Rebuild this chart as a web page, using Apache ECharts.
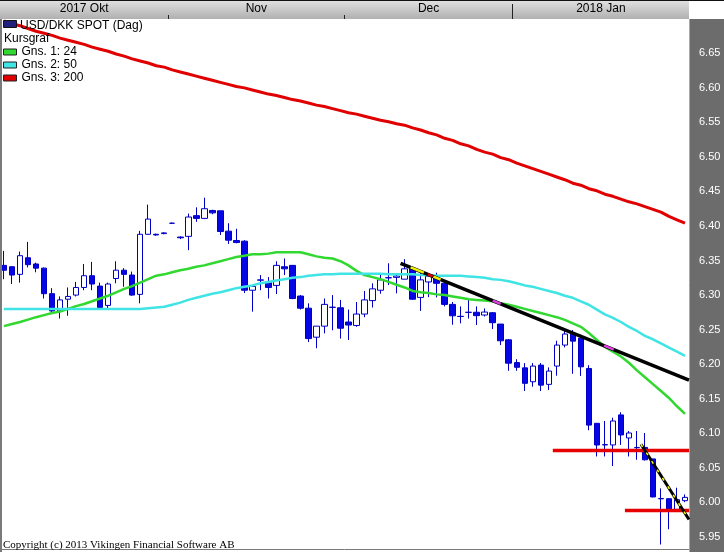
<!DOCTYPE html>
<html><head><meta charset="utf-8">
<script src="https://cdn.jsdelivr.net/npm/echarts@6/dist/echarts.min.js"></script>
<style>html,body{margin:0;padding:0;background:#fff;overflow:hidden}#c{width:724px;height:552px}</style>
</head><body><div id="c"></div>
<script>
// ---- data ----
const dates = [
 '2017-10-03','2017-10-04','2017-10-05','2017-10-06','2017-10-09','2017-10-10','2017-10-11','2017-10-12','2017-10-13','2017-10-16','2017-10-17','2017-10-18','2017-10-19','2017-10-20','2017-10-23','2017-10-24','2017-10-25','2017-10-26','2017-10-27','2017-10-30','2017-10-31',
 '2017-11-01','2017-11-02','2017-11-03','2017-11-06','2017-11-07','2017-11-08','2017-11-09','2017-11-10','2017-11-13','2017-11-14','2017-11-15','2017-11-16','2017-11-17','2017-11-20','2017-11-21','2017-11-22','2017-11-23','2017-11-24','2017-11-27','2017-11-28','2017-11-29','2017-11-30',
 '2017-12-01','2017-12-04','2017-12-05','2017-12-06','2017-12-07','2017-12-08','2017-12-11','2017-12-12','2017-12-13','2017-12-14','2017-12-15','2017-12-18','2017-12-19','2017-12-20','2017-12-21','2017-12-22','2017-12-25','2017-12-26','2017-12-27','2017-12-28','2017-12-29',
 '2018-01-01','2018-01-02','2018-01-03','2018-01-04','2018-01-05','2018-01-08','2018-01-09','2018-01-10','2018-01-11','2018-01-12','2018-01-15','2018-01-16','2018-01-17','2018-01-18','2018-01-19','2018-01-22','2018-01-23','2018-01-24','2018-01-25','2018-01-26','2018-01-29','2018-01-30'
];
const openP = [6.343,6.341,6.330,6.354,6.345,6.339,6.302,6.277,6.294,6.300,6.311,6.328,6.313,6.285,6.324,6.336,6.329,6.301,6.388,6.388,6.389,
 6.404,6.384,6.385,6.415,6.411,6.4225,6.422,6.3925,6.379,6.378,6.307,6.3215,6.318,6.314,6.341,6.343,6.2986,6.281,6.239,6.255,6.2824,6.2816,
 6.261,6.256,6.2725,6.292,6.307,6.3249,6.3256,6.323,6.338,6.2966,6.319,6.3275,6.317,6.2865,6.2692,6.2749,6.2751,6.2711,6.2744,6.258,6.2352,
 6.2022,6.1946,6.1745,6.1986,6.1707,6.1972,6.2276,6.2436,6.2376,6.1937,6.1143,6.083,6.083,6.1265,6.0931,6.079,6.0794,6.0628,6.005,6.0051,5.9897,6.0023];
const highP = [6.364,6.342,6.363,6.377,6.347,6.340,6.310,6.298,6.311,6.319,6.345,6.348,6.318,6.318,6.349,6.339,6.334,6.393,6.431,6.389,6.391,
 6.405,6.385,6.418,6.427,6.441,6.4235,6.422,6.404,6.396,6.3795,6.3126,6.329,6.326,6.349,6.353,6.343,6.300,6.288,6.255,6.295,6.300,6.293,
 6.279,6.290,6.306,6.317,6.3305,6.346,6.332,6.352,6.338,6.336,6.3285,6.3324,6.317,6.290,6.2836,6.294,6.2836,6.2807,6.2754,6.258,6.2364,
 6.2071,6.2015,6.2015,6.2015,6.1953,6.2339,6.2503,6.2493,6.2426,6.1985,6.1143,6.1177,6.1225,6.1304,6.1032,6.1032,6.1003,6.0628,6.0201,6.0059,6.0211,6.0114];
const lowP = [6.323,6.316,6.318,6.340,6.333,6.295,6.274,6.266,6.270,6.298,6.307,6.307,6.279,6.279,6.317,6.312,6.299,6.288,6.387,6.386,6.388,
 6.403,6.381,6.365,6.406,6.410,6.417,6.387,6.374,6.375,6.303,6.276,6.307,6.295,6.3015,6.329,6.294,6.279,6.232,6.223,6.2445,6.249,6.237,
 6.235,6.254,6.268,6.282,6.302,6.3145,6.3025,6.323,6.293,6.277,6.297,6.2966,6.2836,6.257,6.259,6.266,6.2566,6.269,6.2508,6.2276,6.1903,
 6.1903,6.1611,6.1673,6.1611,6.1625,6.1832,6.2242,6.186,6.183,6.1043,6.0663,6.0663,6.0525,6.083,6.0663,6.0616,6.0605,6.0072,5.9388,5.9609,5.9887,6.0001];
const closeP = [6.336,6.329,6.357,6.344,6.339,6.302,6.277,6.293,6.298,6.311,6.328,6.316,6.282,6.316,6.336,6.330,6.300,6.388,6.410,6.387,6.390,
 6.404,6.383,6.413,6.411,6.425,6.419,6.392,6.3795,6.376,6.307,6.3126,6.322,6.311,6.343,6.338,6.295,6.281,6.237,6.255,6.2865,6.2822,6.252,
 6.2566,6.2725,6.293,6.309,6.322,6.3252,6.3275,6.338,6.294,6.322,6.3275,6.317,6.2865,6.270,6.269,6.2751,6.2702,6.2754,6.260,6.2338,6.2014,
 6.1954,6.1722,6.1972,6.1696,6.190,6.2276,6.2436,6.2333,6.1961,6.1117,6.0829,6.0835,6.1177,6.0975,6.1003,6.0794,6.0615,6.0077,6.0055,5.9887,6.0037,6.0071];
const ma24 = [6.255,6.258,6.261,6.2645,6.268,6.271,6.274,6.276,6.280,6.284,6.287,6.291,6.295,6.299,6.304,6.309,6.313,6.318,6.323,6.328,6.330,
 6.333,6.336,6.338,6.341,6.343,6.346,6.349,6.352,6.355,6.357,6.359,6.359,6.360,6.362,6.362,6.362,6.362,6.359,6.356,6.354,6.353,6.349,
 6.343,6.335,6.329,6.326,6.323,6.319,6.315,6.311,6.306,6.304,6.303,6.301,6.300,6.298,6.296,6.294,6.293,6.292,6.291,6.288,6.286,
 6.283,6.280,6.277,6.274,6.271,6.268,6.264,6.259,6.254,6.245,6.235,6.225,6.218,6.211,6.202,6.191,6.181,6.171,6.161,6.151,6.139,6.128];
const ma50 = [6.280,6.280,6.280,6.280,6.280,6.280,6.280,6.280,6.280,6.280,6.280,6.280,6.280,6.280,6.280,6.280,6.280,6.280,6.281,6.282,6.283,
 6.286,6.289,6.293,6.296,6.299,6.302,6.304,6.307,6.310,6.312,6.314,6.317,6.319,6.321,6.323,6.325,6.326,6.328,6.329,6.330,6.330,6.331,
 6.331,6.331,6.331,6.331,6.331,6.330,6.330,6.330,6.330,6.329,6.329,6.328,6.328,6.328,6.328,6.327,6.326,6.325,6.323,6.322,6.320,
 6.317,6.314,6.312,6.309,6.306,6.303,6.299,6.296,6.291,6.286,6.279,6.272,6.267,6.261,6.254,6.248,6.241,6.236,6.230,6.224,6.218,6.212];
const ma200 = [6.697,6.693,6.690,6.686,6.682,6.679,6.676,6.672,6.669,6.666,6.663,6.659,6.656,6.653,6.649,6.646,6.642,6.639,6.636,6.632,6.630,
 6.626,6.623,6.620,6.617,6.614,6.611,6.608,6.605,6.602,6.600,6.597,6.594,6.591,6.589,6.586,6.583,6.581,6.578,6.575,6.573,6.570,6.567,
 6.564,6.562,6.559,6.556,6.553,6.551,6.548,6.546,6.542,6.539,6.535,6.532,6.527,6.524,6.519,6.516,6.511,6.507,6.504,6.499,6.496,
 6.491,6.487,6.483,6.479,6.475,6.471,6.467,6.462,6.459,6.454,6.451,6.446,6.443,6.439,6.435,6.432,6.428,6.424,6.420,6.414,6.409,6.404];
const priceTicks = [5.95,6.00,6.05,6.10,6.15,6.20,6.25,6.30,6.35,6.40,6.45,6.50,6.55,6.60,6.65];
const monthLabels = {'2017-10':'2017 Okt','2017-11':'Nov','2017-12':'Dec','2018-01':'2018 Jan'};
// drawn studies: [day index, price]
const trendA = [[49.5,6.346],[85.5,6.177]];
const trendB = [[79.5,6.084],[85.5,5.975]];
const resistance = [[68.5,6.075],[85.5,6.075]];
const support = [[77.5,5.988],[85.5,5.988]];
const crossYellow = [[[50.75,6.340],[52.4,6.3324]],[[53.6,6.3268],[54.5,6.3225]]];
const crossRed = [[[52.9,6.330],[53.5,6.3272]]];
const crossMagenta = [[[61,6.292],[62,6.2873]],[[74.9,6.2268],[76.1,6.2211]]];

// ---- derived from the dates ----
const monthKeys = dates.map(d => d.slice(0,7));
const monthCenters = [], monthBounds = [], yearBounds = [];
const centerLabel = {};
let start = 0;
for (let i = 1; i <= dates.length; i++) {
  if (i === dates.length || monthKeys[i] !== monthKeys[i-1]) {
    const c = (start + i - 1) / 2;
    monthCenters.push(c); centerLabel[c] = monthLabels[monthKeys[i-1]];
    if (i < dates.length) {
      if (dates[i].slice(0,4) !== dates[i-1].slice(0,4)) yearBounds.push(i - 0.5);
      else monthBounds.push(i - 0.5);
    }
    start = i;
  }
}

const FONT = '"Liberation Sans", Arial, sans-serif';
const chart = echarts.init(document.getElementById('c'), null, {renderer:'canvas'});
const N = dates.length;
const seg = (pts, color, w, extra) => Object.assign({type:'line', xAxisIndex:1, data:pts, showSymbol:false, silent:true,
  lineStyle:{color:color, width:w}, itemStyle:{color:color}, z:6, animation:false}, extra||{});

const series = [
  {type:'candlestick', name:'USD/DKK', xAxisIndex:0, data: dates.map((d,i)=>[openP[i], closeP[i], lowP[i], highP[i]]),
   barWidth:6, z:2, silent:true,
   itemStyle:{color:'#ffffff', color0:'#0505e6', borderColor:'#0000c4', borderColor0:'#0000c4', borderWidth:1}},
  {type:'line', name:'Gns. 1: 24', data:ma24, showSymbol:false, smooth:false, z:3, lineStyle:{color:'#30d830', width:2.5}, itemStyle:{color:'#30d830'}},
  {type:'line', name:'Gns. 2: 50', data:ma50, showSymbol:false, z:3, lineStyle:{color:'#40e4e4', width:2.5}, itemStyle:{color:'#40e4e4'}},
  {type:'line', name:'Gns. 3: 200', data:ma200, showSymbol:false, z:3, lineStyle:{color:'#e00000', width:3}, itemStyle:{color:'#e00000'}},
  seg(resistance, '#e60000', 3.5),
  seg(support, '#e60000', 3.5),
  seg(trendA, '#000000', 3.5, {z:7}),
  seg(trendB, '#000000', 3, {z:7}),
  seg(trendB, '#ffff00', 1.5, {z:8, lineStyle:{color:'#ffff00', width:1.5, type:[3,7]}})
];
crossYellow.forEach(s => series.push(seg(s, '#f0f000', 2.5, {z:8})));
crossRed.forEach(s => series.push(seg(s, '#e00000', 2.5, {z:8})));
crossMagenta.forEach(s => series.push(seg(s, '#e040e0', 2.5, {z:8})));

chart.setOption({
  animation:false,
  backgroundColor:'#ffffff',
  textStyle:{fontFamily:FONT},
  grid:{left:0, right:35, top:19, bottom:0, containLabel:false},
  xAxis:[
    {type:'category', data:dates, boundaryGap:true, show:false},
    {type:'value', position:'top', min:-0.5, max:N-0.5,
     axisLine:{show:false}, splitLine:{show:false},
     axisTick:{show:true, length:4, lineStyle:{color:'#222'}, customValues:monthBounds},
     axisLabel:{show:true, margin:4, color:'#000', fontSize:12, fontFamily:FONT, customValues:monthCenters,
       formatter:v => centerLabel[v] || ''}},
    {type:'value', position:'top', min:-0.5, max:N-0.5,
     axisLine:{show:false}, splitLine:{show:false},
     axisTick:{show:true, length:15, lineStyle:{color:'#222'}, customValues:yearBounds},
     axisLabel:{show:false}}
  ],
  yAxis:{type:'value', position:'right', min:5.928, max:6.6997, scale:true,
    axisLine:{show:false}, splitLine:{show:false},
    axisTick:{show:true, length:4, lineStyle:{color:'#ffffff'}, customValues:priceTicks},
    axisLabel:{color:'#ffffff', fontSize:11, margin:10, fontFamily:FONT, customValues:priceTicks,
      formatter:v => v.toFixed(2)}},
  legend:{data:['Gns. 1: 24','Gns. 2: 50','Gns. 3: 200'], orient:'vertical', left:3, top:46, padding:0,
    itemWidth:13, itemHeight:6, itemGap:1, icon:'rect', selectedMode:false,
    itemStyle:{borderColor:'#222', borderWidth:1},
    textStyle:{fontSize:12, color:'#000', fontFamily:FONT, lineHeight:12}},
  graphic:[
    {type:'rect', shape:{x:0, y:0, width:689, height:19}, z:-1, silent:true,
     style:{fill:new echarts.graphic.LinearGradient(0,0,0,1,[{offset:0,color:'#e2e2e2'},{offset:1,color:'#b0b0b0'}])}},
    {type:'rect', shape:{x:689, y:19, width:35, height:533}, z:-1, silent:true, style:{fill:'#6c6c6c'}},
    {type:'line', shape:{x1:689.5, y1:19, x2:689.5, y2:552}, z:1, silent:true, style:{stroke:'#a8a8a8', lineWidth:1}},
    {type:'line', shape:{x1:0, y1:0.5, x2:724, y2:0.5}, z:10, silent:true, style:{stroke:'#111', lineWidth:1}},
    {type:'line', shape:{x1:1, y1:19, x2:1, y2:552}, z:10, silent:true, style:{stroke:'#7a7a7a', lineWidth:2}},
    {type:'line', shape:{x1:0, y1:549.5, x2:689, y2:549.5}, z:10, silent:true, style:{stroke:'#7a7a7a', lineWidth:1}},
    {type:'rect', shape:{x:3.5, y:20.5, width:13, height:7}, z:20, silent:true, style:{fill:'#20207a', stroke:'#111', lineWidth:1}},
    {type:'text', x:20, y:26, z:20, silent:true, style:{text:'USD/DKK SPOT (Dag)', fill:'#000', font:'12px '+FONT, verticalAlign:'middle'}},
    {type:'text', x:4, y:39, z:20, silent:true, style:{text:'Kursgraf', fill:'#000', font:'12px '+FONT, verticalAlign:'middle'}},
    {type:'text', x:3, y:545, z:20, silent:true, style:{text:'Copyright (c) 2013 Vikingen Financial Software AB', fill:'#000', font:'11px "Liberation Serif", "Times New Roman", serif', verticalAlign:'middle'}}
  ],
  series:series
});
</script></body></html>
